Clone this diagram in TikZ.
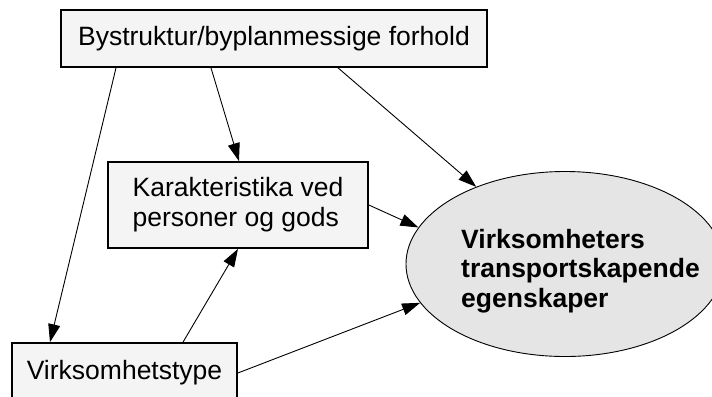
\documentclass[tikz,border=0pt]{standalone}
\usepackage{fontspec}
\setmainfont{Liberation Sans}
\usetikzlibrary{arrows.meta,shapes.geometric}
\definecolor{boxfill}{HTML}{F4F4F4}
\definecolor{ellfill}{HTML}{E5E5E5}
\tikzset{
  boxnode/.style={draw=black, line width=1.7bp, fill=boxfill, inner sep=0pt,
    font=\fontsize{26.5bp}{30bp}\selectfont},
  ellnode/.style={draw=black, line width=0.9bp, fill=ellfill, ellipse, inner sep=0pt,
    minimum width=318bp, minimum height=185bp},
  elltextnode/.style={inner sep=0pt, align=left, font=\bfseries\fontsize{26.5bp}{29.5bp}\selectfont},
  conn/.style={draw=black, line width=0.9bp, -{Triangle[length=18bp,width=12bp]}}
}
\begin{document}
\begin{tikzpicture}[x=1bp,y=-1bp]
\clip (0,0) rectangle (712,396);
\fill[white] (0,0) rectangle (712,396);
\node[boxnode, minimum width=426bp, minimum height=57bp] (top) at (274,38.5) {Bystruktur/byplanmessige forhold};
\node[boxnode, minimum width=260bp, minimum height=86bp, align=left] (mid) at (238,205) {Karakteristika ved\\personer og gods};
\node[boxnode, minimum width=225bp, minimum height=60bp] (bot) at (124.5,373) {Virksomhetstype};
\node[ellnode] (ell) at (565,264) {};
\node[elltextnode, anchor=west] (elltext) at (461,271) {Virksomheters\\transportskapende\\egenskaper};
\draw[conn] ([xshift=-158bp]top.south) -- ([xshift=-74.5bp]bot.north);
\draw[conn] ([xshift=-63bp]top.south) -- ([xshift=1bp]mid.north);
\draw[conn] ([xshift=64bp]top.south) -- (ell.139);
\draw[conn] (mid.east) -- (ell.166);
\draw[conn] ([xshift=58.5bp]bot.north) -- (mid.south);
\draw[conn] (bot.east) -- (ell.195);
\end{tikzpicture}
\end{document}
